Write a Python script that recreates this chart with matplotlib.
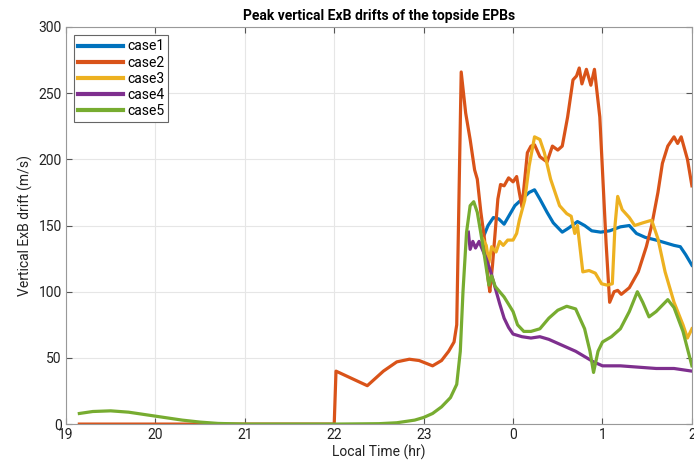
import matplotlib
matplotlib.use("Agg")
import matplotlib.pyplot as plt

plt.rcParams["font.family"] = ["Liberation Sans Narrow", "Roboto", "DejaVu Sans"]

# local time in hours, continuous past midnight (24 = 0 LT)
case1_t = [23.66, 23.72, 23.78, 23.84, 23.90, 23.96, 24.02, 24.10, 24.18, 24.24, 24.30,
           24.38, 24.45, 24.55, 24.62, 24.72, 24.80, 24.88, 24.98, 25.08, 25.20, 25.30,
           25.38, 25.48, 25.60, 25.70, 25.80, 25.87, 25.93, 26.00]
case1_v = [140, 150, 156, 155, 151, 158, 165, 170, 175, 177, 170,
           160, 152, 145, 148, 153, 150, 146, 145, 146, 149, 150,
           144, 141, 139, 137, 135, 134, 128, 120]

case2_t = [19.15, 22.00, 22.02, 22.37, 22.55, 22.70, 22.84, 22.95, 23.10, 23.20, 23.28,
           23.34, 23.37, 23.42, 23.47, 23.52, 23.57, 23.60, 23.64, 23.68, 23.72, 23.74,
           23.77, 23.83, 23.86, 23.90, 23.95, 24.00, 24.04, 24.07, 24.10, 24.16, 24.20,
           24.24, 24.30, 24.38, 24.44, 24.50, 24.55, 24.61, 24.67, 24.71, 24.74, 24.77,
           24.82, 24.87, 24.91, 24.97, 25.04, 25.08, 25.13, 25.17, 25.21, 25.30, 25.40,
           25.49, 25.55, 25.62, 25.67, 25.73, 25.80, 25.84, 25.88, 25.95, 26.00]
case2_v = [0, 0, 40, 29, 40, 47, 49, 48, 44, 48, 55,
           62, 75, 266, 235, 215, 192, 185, 160, 140, 110, 100,
           120, 170, 181, 180, 186, 183, 187, 175, 164, 205, 210,
           211, 202, 198, 210, 207, 210, 232, 260, 263, 269, 257,
           268, 256, 268, 232, 137, 92, 100, 101, 98, 103, 115,
           134, 150, 175, 197, 210, 217, 212, 217, 200, 180]

case3_t = [23.66, 23.70, 23.73, 23.76, 23.81, 23.85, 23.89, 23.94, 24.00, 24.04, 24.07,
           24.13, 24.18, 24.24, 24.30, 24.35, 24.42, 24.52, 24.60, 24.65, 24.69, 24.72,
           24.78, 24.85, 24.92, 24.99, 25.05, 25.11, 25.14, 25.17, 25.22, 25.30, 25.36,
           25.45, 25.55, 25.62, 25.70, 25.80, 25.90, 25.95, 26.00]
case3_v = [140, 135, 122, 134, 130, 138, 135, 139, 139, 144, 154,
           169, 195, 217, 215, 205, 185, 165, 159, 157, 144, 150,
           115, 116, 114, 106, 105, 106, 150, 172, 162, 156, 150,
           152, 154, 140, 115, 92, 75, 65, 72]

case4_t = [23.50, 23.52, 23.55, 23.58, 23.62, 23.65, 23.70, 23.75, 23.80, 23.85, 23.90,
           23.95, 24.00, 24.10, 24.20, 24.30, 24.40, 24.50, 24.60, 24.70, 24.80, 24.90,
           25.00, 25.20, 25.40, 25.60, 25.80, 26.00]
case4_v = [145, 132, 138, 133, 138, 133, 125, 115, 103, 91, 80,
           73, 68, 66, 65, 66, 64, 61, 58, 55, 51, 47,
           44, 44, 43, 42, 42, 40]

case5_t = [19.15, 19.30, 19.50, 19.70, 19.90, 20.10, 20.30, 20.50, 20.70, 21.00, 22.00,
           22.50, 22.70, 22.90, 23.00, 23.10, 23.20, 23.30, 23.37, 23.41, 23.44, 23.48,
           23.52, 23.56, 23.60, 23.65, 23.70, 23.73, 23.76, 23.80, 23.90, 24.00, 24.05,
           24.12, 24.20, 24.30, 24.40, 24.50, 24.60, 24.70, 24.80, 24.86, 24.90, 24.95,
           25.00, 25.10, 25.20, 25.30, 25.39, 25.45, 25.52, 25.60, 25.73, 25.80, 25.90,
           26.00]
case5_v = [8, 9.5, 10, 9, 7, 5, 3, 1.5, 0.5, 0, 0,
           0.3, 1, 3, 5, 8, 13, 20, 30, 55, 100, 145,
           165, 168, 160, 140, 118, 105, 112, 104, 96, 85, 75,
           70, 70, 72, 80, 86, 89, 87, 72, 55, 39, 55,
           62, 66, 72, 85, 100, 92, 81, 85, 94, 88, 70,
           44]

labels = ["case1", "case2", "case3", "case4", "case5"]
colors = ["#0072BD", "#D95319", "#EDB120", "#7E2F8E", "#77AC30"]
xticks = [19, 20, 21, 22, 23, 24, 25, 26]
xtick_labels = ["19", "20", "21", "22", "23", "0", "1", "2"]

fig = plt.figure(figsize=(6.94, 4.65), dpi=100)
ax = fig.add_axes([0.095, 0.088, 0.902, 0.854])

series = [(case1_t, case1_v), (case2_t, case2_v), (case3_t, case3_v),
          (case4_t, case4_v), (case5_t, case5_v)]
for (t, v), lab, c in zip(series, labels, colors):
    ax.plot(t, v, color=c, lw=2.3, label=lab, solid_joinstyle="round")

ax.set_xlim(19, 26)
ax.set_ylim(0, 300)
ax.set_xticks(xticks)
ax.set_xticklabels(xtick_labels)
ax.set_yticks(range(0, 301, 50))
ax.grid(True, color="#e6e6e6", lw=0.8)
ax.set_axisbelow(True)
ax.tick_params(direction="in", top=True, right=True, length=4, labelsize=10,
               color="#555555", labelcolor="#222222", pad=3)
for s in ax.spines.values():
    s.set_color("#999999")
    s.set_linewidth(0.8)

ax.set_xlabel("Local Time (hr)", fontsize=10, color="#222222", labelpad=2)
ax.set_ylabel("Vertical ExB drift (m/s)", fontsize=10, color="#222222", labelpad=4)
ax.set_title("Peak vertical ExB drifts of the topside EPBs", fontsize=10,
             fontweight="bold", pad=5)

leg = ax.legend(loc="upper left", fontsize=10, handlelength=3.2, handletextpad=0.3,
                borderpad=0.3, labelspacing=0.15, fancybox=False, framealpha=1,
                borderaxespad=0.6)
leg.get_frame().set_edgecolor("#666666")
leg.get_frame().set_linewidth(0.8)
for line in leg.get_lines():
    line.set_linewidth(3)

fig.savefig("out.png", dpi=100)
